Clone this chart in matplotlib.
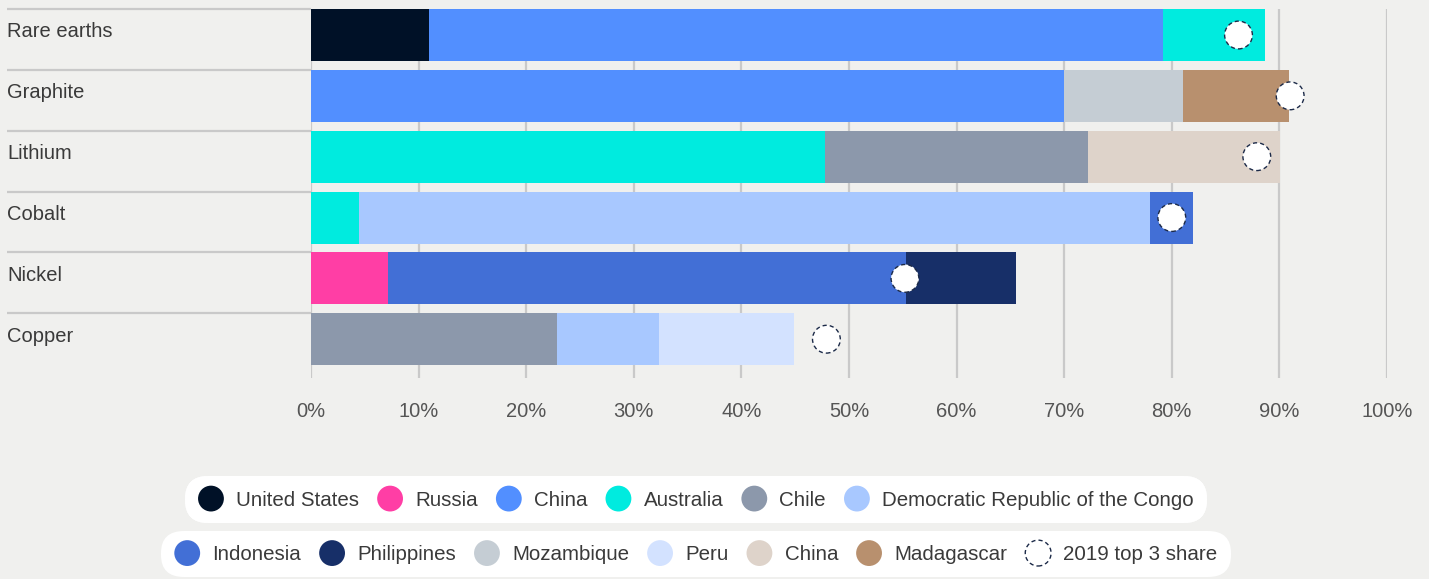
import matplotlib
matplotlib.use("Agg")
import matplotlib.pyplot as plt
import matplotlib.patches as mpatches
from matplotlib.legend_handler import HandlerPatch
import numpy as np

plt.rcParams['font.family'] = ['Liberation Sans', 'DejaVu Sans']

minerals = ["Rare earths", "Graphite", "Lithium", "Cobalt", "Nickel", "Copper"]

# country shares (%) per mineral, in stacking order
segments = {
    "Rare earths": [("United States", 11.0), ("China", 68.2), ("Australia", 9.5)],
    "Graphite": [("China", 70.0), ("Mozambique", 11.0), ("Madagascar", 9.9)],
    "Lithium": [("Australia", 47.8), ("Chile", 24.4), ("China (refined)", 17.9)],
    "Cobalt": [("Australia", 4.5), ("DRC", 73.5), ("Indonesia", 4.0)],
    "Nickel": [("Russia", 7.2), ("Indonesia", 48.1), ("Philippines", 10.2)],
    "Copper": [("Chile", 22.9), ("DRC", 9.4), ("Peru", 12.6)],
}
top3_2019 = [86.2, 91.0, 87.9, 80.0, 55.2, 47.9]

colors = {
    "United States": "#001127",
    "Russia": "#ff3ea5",
    "China": "#528fff",
    "Australia": "#00ebdf",
    "Chile": "#8c98ab",
    "DRC": "#a8c8ff",
    "Indonesia": "#426fd6",
    "Philippines": "#172f68",
    "Mozambique": "#c5cdd4",
    "Peru": "#d3e2ff",
    "China (refined)": "#ded3ca",
    "Madagascar": "#b8906e",
}
legend_row1 = [("United States", "United States"), ("Russia", "Russia"), ("China", "China"),
               ("Australia", "Australia"), ("Chile", "Chile"),
               ("DRC", "Democratic Republic of the Congo")]
legend_row2 = [("Indonesia", "Indonesia"), ("Philippines", "Philippines"),
               ("Mozambique", "Mozambique"), ("Peru", "Peru"),
               ("China (refined)", "China"), ("Madagascar", "Madagascar")]

bg = "#f0f0ee"
grid = "#c9c9c9"
txt = "#3a3a3a"

fig = plt.figure(figsize=(14.29, 5.79), dpi=100, facecolor=bg)
W, H = 1429, 579
ax = fig.add_axes([311 / W, 1 - 378 / H, 1076 / W, 369 / H])
ax.set_facecolor(bg)

bh = 0.855
for i, m in enumerate(minerals):
    left = 0
    for country, v in segments[m]:
        ax.barh(i, v, left=left, height=bh, color=colors[country], zorder=2)
        left += v

ax.scatter(top3_2019, range(len(minerals)), s=20 ** 2, facecolor="white",
           edgecolor="#1c2a48", linewidth=1.0, linestyle=(0, (3, 2.2)), zorder=4)

ax.set_xlim(0, 100)
ax.set_ylim(5 + bh / 2 + 0.21, -bh / 2)
ax.set_xticks(np.arange(0, 101, 10))
ax.set_xticklabels([f"{v}%" for v in range(0, 101, 10)])
ax.tick_params(axis="x", length=0, pad=17, labelsize=14.5, labelcolor="#555555")
ax.set_yticks([])
ax.grid(axis="x", color=grid, linewidth=1.6, zorder=0)
ax.set_axisbelow(True)
for s in ax.spines.values():
    s.set_visible(False)

# row separators and labels on the left
lx = (7 - 311) / 1076
ytr = ax.get_yaxis_transform()
for i, m in enumerate(minerals):
    ax.hlines(i - bh / 2, lx, 0, transform=ytr, color=grid, linewidth=1.6, clip_on=False)
    ax.text(lx, i - 0.05, m, transform=ytr, ha="left", va="center",
            fontsize=14.5, color=txt)


def make_circle(legend, orig_handle, xdescent, ydescent, width, height, fontsize):
    return mpatches.Circle((width / 2 - xdescent, height / 2 - ydescent), radius=9.3)


hmap = {mpatches.Circle: HandlerPatch(patch_func=make_circle)}


def add_legend(items, y, extra=None):
    handles = [mpatches.Circle((0, 0), 1, facecolor=colors[k], edgecolor="none") for k, _ in items]
    labels = [lab for _, lab in items]
    if extra is not None:
        handles.append(extra[0])
        labels.append(extra[1])
    leg = fig.legend(handles, labels, loc="center", bbox_to_anchor=(0.487, y),
                     ncol=len(handles), handler_map=hmap, frameon=True, fancybox=True,
                     facecolor="white", edgecolor="none", framealpha=1,
                     fontsize=14.8, labelcolor=txt, handlelength=1.25, handleheight=1.0,
                     handletextpad=0.6, columnspacing=0.88, borderpad=0.64,
                     borderaxespad=0)
    leg.get_frame().set_boxstyle("round", pad=0, rounding_size=1.1)
    return leg


leg1 = add_legend(legend_row1, 1 - 499.5 / H)
fig.add_artist(leg1)
dashed = mpatches.Circle((0, 0), 1, facecolor="white", edgecolor="#1c2a48",
                         linewidth=1.0, linestyle=(0, (3, 2.2)))
add_legend(legend_row2, 1 - 554 / H, extra=(dashed, "2019 top 3 share"))

fig.savefig("out.png", dpi=100, facecolor=bg)
